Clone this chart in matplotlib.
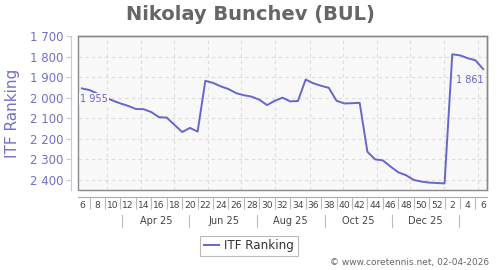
import matplotlib
matplotlib.use("Agg")
import matplotlib.pyplot as plt
import matplotlib.transforms as mtransforms
from matplotlib.patches import Rectangle
from matplotlib.ticker import FuncFormatter, FixedLocator
import datetime as dt

# ---- data ----
week_labels = ["6", "8", "10", "12", "14", "16", "18", "20", "22", "24", "26", "28", "30",
               "32", "34", "36", "38", "40", "42", "44", "46", "48", "50", "52", "2", "4", "6"]
ranking = [1955, 1963, 1980, 1998, 2014, 2028, 2040, 2055, 2056, 2070,
           2095, 2097, 2132, 2167, 2147, 2165, 1918, 1928, 1945, 1958,
           1978, 1988, 1995, 2010, 2036, 2015, 2000, 2018, 2016, 1912,
           1930, 1942, 1952, 2015, 2028, 2027, 2025, 2263, 2300, 2305,
           2335, 2363, 2377, 2400, 2408, 2413, 2415, 2417, 1789, 1794,
           1808, 1818, 1861]
month_labels = ["Apr 25", "Jun 25", "Aug 25", "Oct 25", "Dec 25"]
y_ticks = [1700, 1800, 1900, 2000, 2100, 2200, 2300, 2400]
series_name = "ITF Ranking"
title = "Nikolay Bunchev (BUL)"
credit = "\u00a9 www.coretennis.net, 02-04-2026"

start = dt.datetime(2025, 2, 3)
dates = [start + dt.timedelta(days=3.5 + 7 * i) for i in range(len(ranking))]
month_starts = [dt.datetime(2025 + (m - 1) // 12, (m - 1) % 12 + 1, 1) for m in range(3, 15)]
month_mids = [dt.datetime(2025 + (m - 1) // 12, (m - 1) % 12 + 1, 15) for m in range(4, 13, 2)]
month_seps = [dt.datetime(2025 + (m - 1) // 12, (m - 1) % 12 + 1, 15) for m in range(3, 14, 2)]

LINE = "#6666cc"
TXT_BLUE = "#7070c8"

fig = plt.figure(figsize=(5, 2.7), dpi=100)
W, H = 500, 270
ax = fig.add_axes([78 / W, 1 - 190 / H, (487 - 78) / W, (190 - 36) / H])
ax.set_facecolor("#f8f8f8")

ax.plot(dates, ranking, color=LINE, lw=1.4, zorder=3)
ax.set_xlim(start, start + dt.timedelta(days=371))
ax.set_ylim(2449, 1700)

# grid
ax.yaxis.grid(True, color="#dddddd", ls=(0, (3, 3)), lw=0.8)
for d in month_starts:
    ax.axvline(d, color="#dddddd", ls=(0, (3, 3)), lw=0.8, zorder=0)

# frame
for s in ["top", "right"]:
    ax.spines[s].set_color("#888888")
    ax.spines[s].set_linewidth(1.0)
ax.add_patch(Rectangle((0, 0), 1, 1, transform=ax.transAxes, fill=False,
                       edgecolor="#888888", lw=1.0, clip_on=False, zorder=4))
ax.spines["left"].set_position(("outward", 5))
ax.spines["left"].set_color("#c8c8e0")
ax.spines["bottom"].set_position(("outward", 5))
ax.spines["bottom"].set_color("#aaaaaa")

# y axis
ax.yaxis.set_major_locator(FixedLocator(y_ticks))
ax.yaxis.set_major_formatter(FuncFormatter(lambda v, p: f"{int(v):,}".replace(",", " ")))
ax.tick_params(axis="y", colors="#c8c8e0", labelcolor=TXT_BLUE, labelsize=8.5, length=3.5, pad=2)
ax.set_ylabel(series_name, color=TXT_BLUE, fontsize=11)
ax.yaxis.set_label_coords(20 / W, 1 - 113 / H, transform=fig.transFigure)

# x axis
ax.set_xticks(dates[::2])
ax.set_xticklabels(week_labels)
ax.set_xticks(dates[1::2], minor=True)
ax.tick_params(axis="x", which="major", length=0, labelsize=6.6, labelcolor="#444444", pad=3)
ax.tick_params(axis="x", which="minor", length=8.5, width=0.8, color="#bbbbbb")

blend = mtransforms.blended_transform_factory(ax.transData, fig.transFigure)
for d, lab in zip(month_mids, month_labels):
    ax.text(d, 1 - 221 / H, lab, transform=blend, ha="center", va="center",
            fontsize=7, color="#444444")
for d in month_seps:
    ax.plot([d, d], [1 - 215 / H, 1 - 227 / H], transform=blend, color="#bbbbbb",
            lw=0.8, clip_on=False)

# point labels
def fmt(v):
    return f"{v:,}".replace(",", " ")

ax.annotate(fmt(ranking[0]), (dates[0], ranking[0]), xytext=(-1, -4), textcoords="offset points",
            ha="left", va="top", fontsize=7, color=LINE, zorder=5,
            bbox=dict(boxstyle="square,pad=0.1", fc="#f8f8f8", ec="none"))
ax.annotate(fmt(ranking[-1]), (dates[-1], ranking[-1]), xytext=(0, -4), textcoords="offset points",
            ha="right", va="top", fontsize=7, color=LINE, zorder=5)

# title, legend, credit
fig.text(250 / W, 1 - 14 / H, title, ha="center", va="center", fontsize=14,
         fontweight="bold", color="#666666")
leg = fig.legend([ax.lines[0]], [series_name], loc="center", bbox_to_anchor=(249 / W, 1 - 246 / H),
                 fontsize=8.6, frameon=True, fancybox=False, handlelength=1.3, handletextpad=0.4,
                 borderpad=0.3, labelcolor="#333333")
leg.get_frame().set_edgecolor("#aaaaaa")
leg.get_frame().set_linewidth(0.8)
fig.text(489 / W, 1 - 263 / H, credit, ha="right", va="center", fontsize=6.5, color="#666666")

fig.savefig("out.png", dpi=100)
